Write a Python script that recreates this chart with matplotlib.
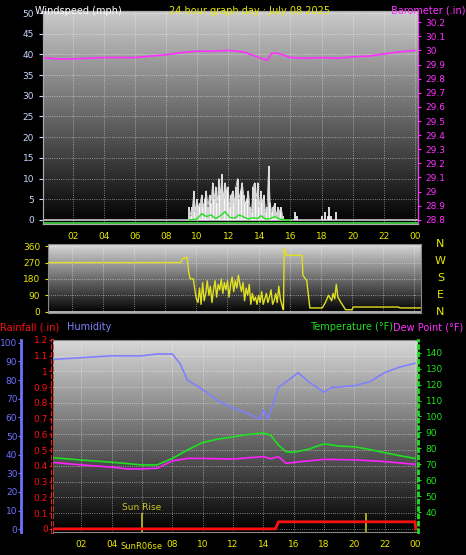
import numpy as np
import matplotlib.pyplot as plt

# ---- data ----
hours = ['02', '04', '06', '08', '10', '12', '14', '16', '18', '20', '22', '00']
tick_pos = [2, 4, 6, 8, 10, 12, 14, 16, 18, 20, 22, 24]

baro_t = [0, 1, 2, 3, 4, 5, 6, 7, 8, 9, 10, 11, 12, 13, 14, 14.5, 14.8, 15.2, 16, 17, 18, 19, 20, 21, 22, 23, 24]
baro = [29.95, 29.94, 29.94, 29.945, 29.95, 29.95, 29.95, 29.96, 29.97, 29.985, 29.995, 29.995, 30.0,
        29.99, 29.95, 29.93, 29.98, 29.98, 29.95, 29.945, 29.95, 29.945, 29.955, 29.96, 29.975, 29.99, 30.0]

gust_t = [9.5, 9.6, 9.7, 9.8, 9.9, 10.0, 10.1, 10.2, 10.3, 10.4, 10.5, 10.6, 10.7, 10.8, 10.9, 11.0,
          11.1, 11.2, 11.3, 11.4, 11.5, 11.6, 11.7, 11.8, 11.9, 12.0, 12.1, 12.2, 12.3, 12.4, 12.5,
          12.6, 12.7, 12.8, 12.9, 13.0, 13.1, 13.2, 13.3, 13.4, 13.5, 13.6, 13.7, 13.8, 13.9, 14.0,
          14.1, 14.2, 14.3, 14.4, 14.5, 14.6, 14.7, 14.8, 14.9, 15.0, 15.1, 15.2, 15.3, 15.4, 15.5,
          16.3, 16.4, 18.0, 18.2, 18.4, 18.5, 18.6, 18.9]
gust = [3, 1, 3, 7, 2, 5, 3, 4, 6, 3, 5, 7, 3, 6, 4, 9, 5, 8, 4, 10, 6, 11, 5, 9, 7, 8, 3, 6,
        7, 4, 8, 10, 5, 7, 9, 6, 4, 5, 7, 3, 2, 8, 9, 5, 9, 3, 7, 4, 6, 2, 3, 13, 4, 2, 3, 4, 1, 3,
        2, 3, 1, 2, 1, 1, 2, 1, 3, 1, 2]
avg_t = [9.5, 10.0, 10.3, 10.6, 10.9, 11.2, 11.5, 11.8, 12.1, 12.4, 12.7, 13.0, 13.3, 13.6, 13.9,
         14.1, 14.4, 14.7, 15.0, 15.3, 15.6, 16.0]
avg = [0, 0.2, 1.5, 0.8, 1.2, 0.3, 1.0, 2.0, 0.6, 0.4, 1.2, 0.7, 0.2, 0.5, 0.3, 1.0, 0.2, 0.3, 0.8, 0.2, 0, 0]

dir_t = [0, 9.0, 9.1, 9.4, 9.5, 9.6, 9.8, 9.9, 10.0, 10.1, 10.2, 10.3, 10.4, 10.5, 10.6, 10.7, 10.8,
         10.9, 11.0, 11.1, 11.2, 11.3, 11.4, 11.5, 11.6, 11.7, 11.8, 11.9, 12.0, 12.1, 12.2, 12.3,
         12.4, 12.5, 12.6, 12.7, 12.8, 12.9, 13.0, 13.1, 13.2, 13.3, 13.4, 13.5, 13.6, 13.7, 13.8,
         13.9, 14.0, 14.1, 14.2, 14.3, 14.4, 14.5, 14.6, 14.7, 14.8, 14.9, 15.0, 15.1, 15.2, 15.3,
         15.4, 15.55, 15.6, 15.65, 15.8, 16.8, 16.85, 17.1, 17.3, 17.4, 18.1, 18.3, 18.5, 18.7, 18.8,
         18.9, 19.0, 19.1, 19.3, 19.6, 20.0, 20.1, 23.0, 23.1, 24.4]
wdir = [270, 270, 290, 300, 220, 180, 180, 120, 70, 50, 130, 40, 160, 60, 100, 170, 90, 140, 50,
        120, 170, 80, 150, 120, 180, 100, 160, 120, 170, 80, 150, 190, 110, 170, 130, 200, 150,
        110, 160, 60, 130, 90, 150, 40, 100, 60, 80, 40, 90, 50, 110, 40, 70, 100, 50, 80, 120,
        40, 60, 100, 50, 140, 70, 20, 10, 350, 310, 310, 200, 170, 20, 20, 20, 50, 90, 60, 100,
        70, 150, 80, 50, 10, 10, 25, 25, 20, 20]

t_h = [0, 2, 4, 6, 7, 8, 8.5, 9, 10, 11, 12, 13, 13.8, 14, 14.3, 15, 15.5, 16.3, 17, 18, 18.5,
       20, 21, 22, 23, 24]
humidity = [91, 92, 93, 93, 94, 94, 89, 80, 75, 69, 65, 62, 59, 64, 59, 76, 79, 84, 79, 73.5, 76,
            77, 79, 84, 87, 89]

t_t = [0, 2, 4, 6, 7, 8, 9, 10, 11, 12, 13, 14, 14.5, 15, 15.5, 16, 17, 18, 19, 20, 21, 22, 23, 24]
temp = [74.2, 72.7, 71.3, 69.6, 69.6, 73.7, 79, 83.7, 85.8, 87.2, 88.7, 89.7, 88.2, 82, 77.9, 77.5,
        79.5, 82.9, 81.4, 81, 79.3, 77.3, 75.4, 73.7]
d_t = [0, 2, 4, 5, 6, 7, 8, 9, 10, 12, 14, 14.5, 15, 15.5, 16, 18, 20, 22, 24]
dew = [71.3, 69.6, 68.2, 67.1, 67.1, 67.5, 72.1, 73.7, 73.7, 73.3, 74.8, 73.5, 74.8, 70.6, 71.2,
       73.1, 72.8, 71.7, 70.0]

rain_t = [0, 14.8, 15.0, 24.0, 24.05]
rain = [0, 0, 0.045, 0.045, 0]

YEL = '#e8e800'
fs = 6.5
tfs = 7


def background(ax, top=0.8):
    g = np.linspace(top, 0.0, 256).reshape(-1, 1)
    ax.imshow(g, aspect='auto', extent=[0, 1, 0, 1], transform=ax.transAxes,
              cmap='gray', vmin=0, vmax=1, zorder=0)
    ax.grid(True, color='white', linestyle=':', linewidth=0.6, alpha=0.6)
    ax.set_facecolor('black')


fig = plt.figure(figsize=(4.66, 5.55), dpi=100, facecolor='black')

# ---- wind speed / barometer ----
ax1 = fig.add_axes([0.0923, 0.5964, 0.8047, 0.3838])
background(ax1, 0.8)
ax1.set_xlim(0.1, 24.2)
ax1.set_ylim(-1, 50.5)
ax1.vlines(gust_t, 0, gust, color='white', linewidth=1.2, zorder=3)
ax1.plot(gust_t[:61], gust[:61], color='#dddddd', linewidth=0.6, zorder=3)
ax1.plot(avg_t, avg, color='#20e020', linewidth=1.0, zorder=4)
ax1.axhline(0, color='#c8c8c8', linewidth=1.2, zorder=2)
ax1.axhline(-0.8, color='#40e040', linewidth=1.2, zorder=2)
ax1.set_yticks(range(0, 51, 5))
ax1.set_xticks(tick_pos)
ax1.set_xticklabels(hours)
ax1.tick_params(axis='x', colors=YEL, labelsize=fs, length=0, pad=6)
ax1.tick_params(axis='y', colors='#c8d8ff', labelsize=fs, length=3)
ax1b = ax1.twinx()
ax1b.set_ylim(28.77, 30.28)
ax1b.plot(baro_t, baro, color='#ff30ff', linewidth=1.2)
ax1b.set_yticks(np.round(np.arange(28.8, 30.21, 0.1), 1))
ax1b.set_yticklabels(['28.8', '28.9', '29', '29.1', '29.2', '29.3', '29.4', '29.5', '29.6',
                      '29.7', '29.8', '29.9', '30', '30.1', '30.2'])
ax1b.tick_params(axis='y', colors='#ff30ff', labelsize=fs, length=2)
for a in (ax1, ax1b):
    for s in a.spines.values():
        s.set_color('#aaaaaa')
ax1b.spines['right'].set_color('#ff30ff')

fig.text(0.075, 0.99, 'Windspeed (mph)', color='white', fontsize=tfs, va='top')
fig.text(0.535, 0.99, '24 hour graph day : July 08 2025', color=YEL, fontsize=tfs, va='top', ha='center')
fig.text(0.998, 0.99, 'Barometer (.in)', color='#ff30ff', fontsize=tfs, va='top', ha='right')

# ---- wind direction ----
ax2 = fig.add_axes([0.103, 0.436, 0.8004, 0.1243])
background(ax2, 0.85)
ax2.set_xlim(0.45, 24.45)
ax2.set_ylim(-8, 372)
ax2.plot(dir_t, wdir, color='#e0e020', linewidth=1.0, zorder=3)
ax2.axhline(-5, color='#cccccc', linewidth=1.2)
ax2.set_yticks([0, 90, 180, 270, 360])
ax2.set_xticks(tick_pos)
ax2.set_xticklabels([])
ax2.tick_params(axis='y', colors=YEL, labelsize=fs, length=2)
ax2.tick_params(axis='x', length=0)
for s in ax2.spines.values():
    s.set_color('#888888')
for lab, y in zip('NWSEN', [244, 261, 278, 295, 312]):
    fig.text(0.945, 1 - y / 555, lab, color=YEL, fontsize=8, ha='center', va='center')

# ---- rain / humidity / temperature / dew point ----
ax3 = fig.add_axes([0.1116, 0.0414, 0.7854, 0.346])
background(ax3, 0.85)
ax3.set_xlim(0.07, 24.2)
ax3.set_ylim(-0.02, 1.2)
ax3.plot(rain_t, rain, color='#ff1010', linewidth=2, zorder=5)
ax3.set_yticks(np.round(np.arange(0, 1.21, 0.1), 1))
ax3.set_yticklabels(['0', '0.1', '0.2', '0.3', '0.4', '0.5', '0.6', '0.7', '0.8', '0.9', '1',
                     '1.1', '1.2'])
ax3.tick_params(axis='y', colors='#ff1010', labelsize=fs, length=2, pad=1)
ax3.spines['left'].set_color('#ff3030')
ax3.spines['left'].set_linestyle(':')
ax3.spines['left'].set_linewidth(2)
ax3.set_xticks(tick_pos)
ax3.set_xticklabels(['02', '04', '', '08', '10', '12', '14', '16', '18', '20', '22', '00'])
ax3.tick_params(axis='x', colors=YEL, labelsize=fs, length=0, pad=6)
ax3.vlines([6, 20.75], -0.02, 0.1, color='#c0c020', linewidth=1.2, zorder=4)
ax3.text(6.0, 0.105, 'Sun Rise', color='#c8c820', fontsize=6.5, ha='center', va='bottom')
ax3.text(6.0, -0.085, 'SunR06se', color=YEL, fontsize=6, ha='center', va='top')

ax3h = ax3.twinx()
ax3h.yaxis.tick_left()
ax3h.spines['left'].set_position(('outward', 22))
ax3h.spines['left'].set_visible(True)
ax3h.spines['left'].set_color('#7070ff')
ax3h.spines['left'].set_linewidth(2)
ax3h.set_ylim(-1.5, 101.5)
ax3h.plot(t_h, humidity, color='#8080ff', linewidth=1.2)
ax3h.set_yticks(range(0, 101, 10))
ax3h.tick_params(axis='y', colors='#7070ff', labelsize=fs, length=2, pad=1)

ax3t = ax3.twinx()
ax3t.set_ylim(27.5, 148)
ax3t.plot(t_t, temp, color='#20e020', linewidth=1.2)
ax3t.plot(d_t, dew, color='#ff20ff', linewidth=1.2)
ax3t.set_yticks(range(40, 141, 10))
ax3t.tick_params(axis='y', colors='#20e020', labelsize=fs, length=2)
ax3t.spines['right'].set_color('#20e020')
ax3t.spines['right'].set_linestyle(':')
ax3t.spines['right'].set_linewidth(2)
for a in (ax3h, ax3t):
    a.spines['top'].set_visible(False)
    a.spines['bottom'].set_visible(False)
ax3.spines['top'].set_color('#888888')
ax3.spines['bottom'].set_color('#888888')
ax3.spines['right'].set_visible(False)

fig.text(0.0, 1 - 327 / 555, 'Rainfall (.in)', color='#ff1010', fontsize=tfs, va='center')
fig.text(0.143, 1 - 327 / 555, 'Humidity', color='#8080ff', fontsize=tfs, va='center')
fig.text(0.665, 1 - 327 / 555, 'Temperature (°F)', color='#20e020', fontsize=tfs, va='center')
fig.text(0.995, 1 - 327 / 555, 'Dew Point (°F)', color='#ff30ff', fontsize=tfs, va='center', ha='right')

fig.savefig('out.png', dpi=100, facecolor='black')
